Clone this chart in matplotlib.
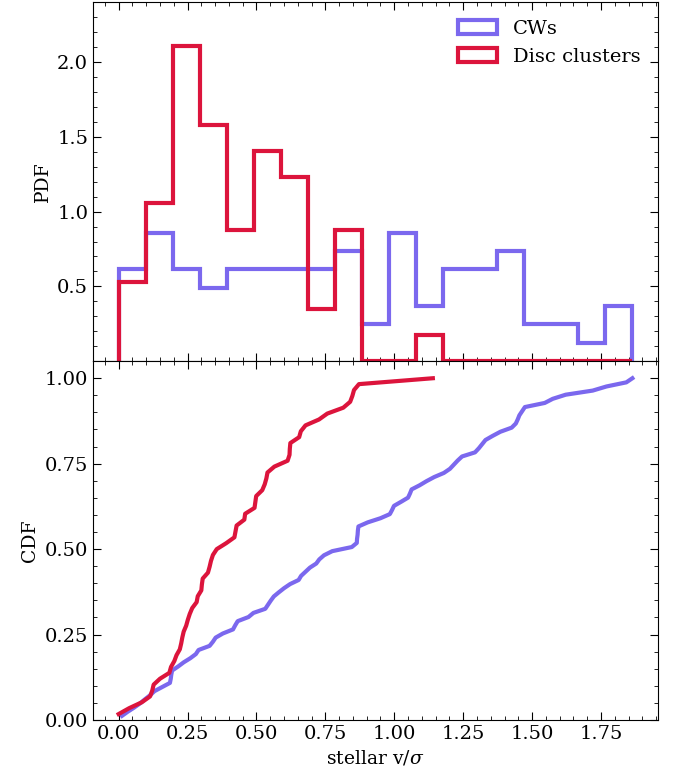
import numpy as np
import matplotlib
matplotlib.use("Agg")
import matplotlib.pyplot as plt
from matplotlib.ticker import MultipleLocator

# stellar v/sigma samples
cw_vsig = [0.012, 0.033, 0.056, 0.077, 0.095,
           0.114, 0.130, 0.158, 0.186, 0.189, 0.191, 0.194,
           0.216, 0.236, 0.260, 0.280, 0.290,
           0.330, 0.342, 0.352, 0.378,
           0.415, 0.423, 0.432, 0.471, 0.489,
           0.532, 0.542, 0.552, 0.563, 0.581,
           0.600, 0.622, 0.653, 0.662, 0.678,
           0.694, 0.717, 0.728, 0.745, 0.775,
           0.846, 0.864, 0.865, 0.867, 0.868, 0.870,
           0.904, 0.950,
           0.984, 0.992, 0.999, 1.025, 1.050, 1.057, 1.063,
           1.092, 1.117, 1.145,
           1.180, 1.202, 1.216, 1.230, 1.246,
           1.293, 1.307, 1.319, 1.331, 1.357,
           1.385, 1.426, 1.441, 1.448, 1.454, 1.464,
           1.474, 1.546,
           1.575, 1.622,
           1.720,
           1.770, 1.842, 1.864]

disc_vsig = [0.000, 0.038, 0.084,
             0.114, 0.122, 0.127, 0.150, 0.184, 0.190,
             0.202, 0.210, 0.222, 0.227, 0.231, 0.236, 0.245, 0.251, 0.258, 0.267, 0.283, 0.287,
             0.300, 0.302, 0.305, 0.324, 0.330, 0.335, 0.342, 0.356, 0.390,
             0.420, 0.424, 0.428, 0.456, 0.459,
             0.493, 0.496, 0.499, 0.521, 0.530, 0.536, 0.540, 0.565,
             0.613, 0.620, 0.621, 0.623, 0.655, 0.661, 0.678,
             0.727, 0.757,
             0.815, 0.840, 0.848, 0.854, 0.872,
             1.140]

labels = ["CWs", "Disc clusters"]
colors = ["mediumslateblue", "crimson"]
n_bins = 19

plt.rcParams["font.family"] = "DejaVu Serif"
plt.rcParams["mathtext.fontset"] = "dejavuserif"
plt.rcParams["font.size"] = 13.5

fig, (ax1, ax2) = plt.subplots(2, 1, figsize=(6.76, 7.77), dpi=100, sharex=True)
fig.subplots_adjust(left=0.1376, right=0.9734, top=0.997, bottom=0.0734, hspace=0)

cw = np.array(cw_vsig)
disc = np.array(disc_vsig)
rng = (min(cw.min(), disc.min()), max(cw.max(), disc.max()))

for data, lab, col in zip([cw, disc], labels, colors):
    ax1.hist(data, bins=n_bins, range=rng, density=True, histtype="step",
             lw=3, color=col, label=lab)
    xs = np.sort(data)
    ax2.plot(xs, np.arange(1, len(xs) + 1) / len(xs), lw=3, color=col)

ax1.set_ylim(0, 2.4)
ax1.set_yticks([0.5, 1.0, 1.5, 2.0])
ax1.yaxis.set_minor_locator(MultipleLocator(0.1))
ax1.set_ylabel("PDF")
ax1.legend(loc="upper right", frameon=False, fontsize=14)

ax2.set_ylim(0, 1.05)
ax2.set_yticks([0, 0.25, 0.5, 0.75, 1.0])
ax2.yaxis.set_minor_locator(MultipleLocator(0.05))
ax2.set_ylabel("CDF")
ax2.set_xlabel(r"stellar v/$\sigma$")
ax2.xaxis.set_major_locator(MultipleLocator(0.25))
ax2.xaxis.set_minor_locator(MultipleLocator(0.05))
ax2.set_xlim(-0.093, 1.957)

for ax in (ax1, ax2):
    ax.tick_params(which="both", direction="in", top=True, right=True, labelsize=14)
    ax.tick_params(which="major", length=6)
    ax.tick_params(which="minor", length=3)

fig.savefig("out.png")
